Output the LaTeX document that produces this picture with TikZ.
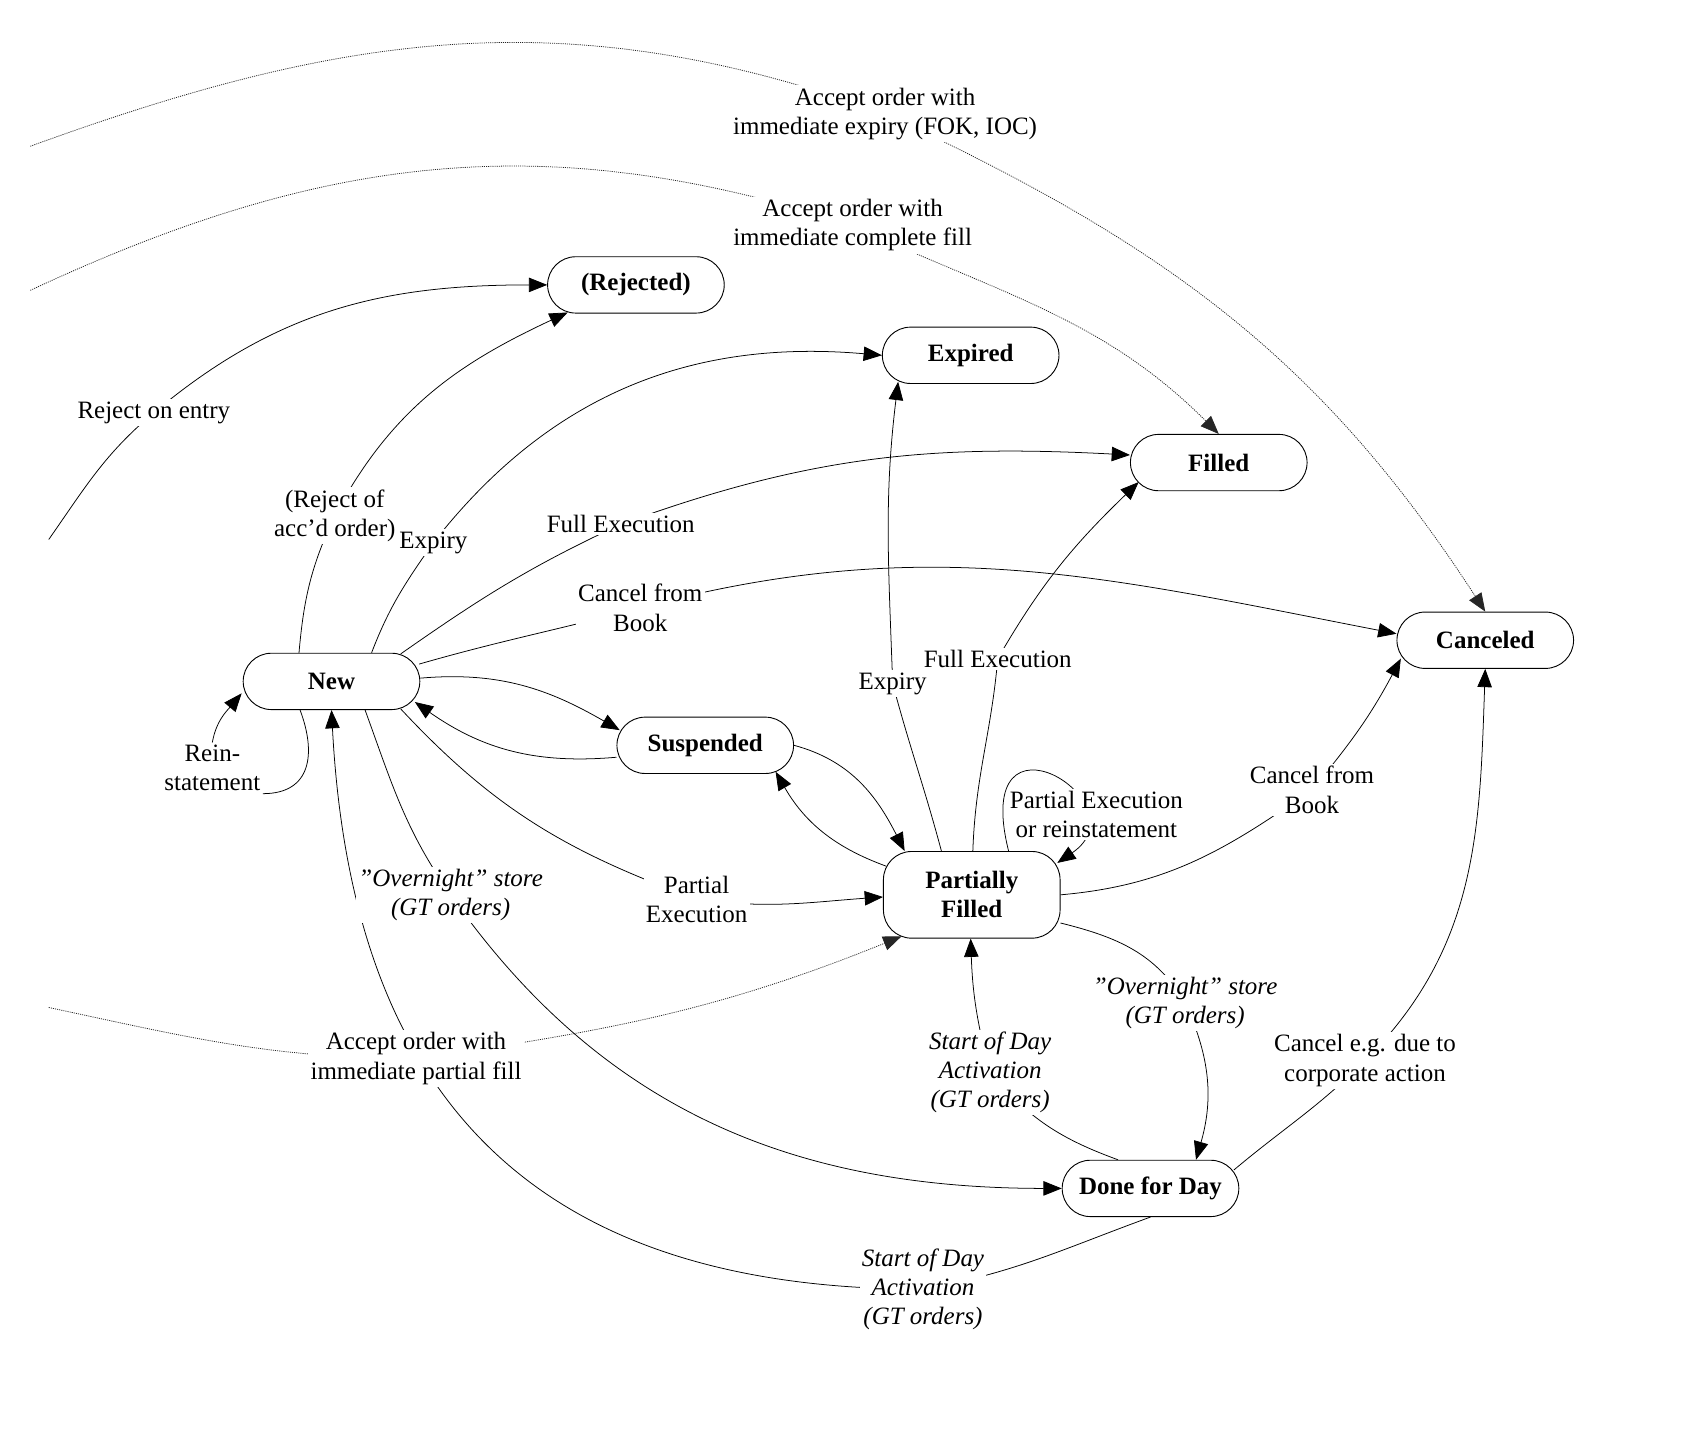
\documentclass[tikz,border=0pt]{standalone}
\usepackage{fontspec}
\setmainfont{Liberation Serif}
\usetikzlibrary{arrows.meta,calc,backgrounds}
\begin{document}
\begin{tikzpicture}[x=0.025cm,y=0.025cm,
  stbox/.style={draw, line width=0.6pt, rounded corners=0.65cm, minimum width=4.075cm, minimum height=1.3cm, fill=white, align=center, font=\fontsize{16.4}{19.2}\selectfont\bfseries},
  lbl/.style={fill=white, inner sep=1.5pt, align=center, font=\fontsize{16.4}{19.2}\selectfont},
  ilbl/.style={lbl, font=\fontsize{16.4}{19.2}\selectfont\itshape},
  conn/.style={line width=0.5pt, -{Triangle[length=12pt,width=9.5pt]}},
  conn0/.style={line width=0.5pt},
  dotconn/.style={conn, draw=black!85, dash pattern=on 0.7pt off 0.7pt},
]
\useasboundingbox (0,0) rectangle (1560,1322);
% states
\node[stbox] (rej) at (587,1059) {(Rejected)};
\node[stbox] (exp) at (896,994) {Expired};
\node[stbox] (fil) at (1125,895) {Filled};
\node[stbox] (can) at (1371,731) {Canceled};
\node[stbox] (new) at (306,693) {New};
\node[stbox] (sus) at (651,634) {Suspended};
\node[stbox, minimum height=2cm] (pf) at (897,496) {Partially\\Filled};
\node[stbox] (dfd) at (1062,225) {Done for Day};
% labels
\node[lbl] (lfok) at (817,1217) {Accept order with\\immediate expiry (FOK, IOC)};
\node[lbl] (lcomp) at (787,1114) {Accept order with\\immediate complete fill};
\node[lbl] (lrent) at (142,941) {Reject on entry};
\node[lbl] (lracc) at (309,846) {(Reject of\\acc’d order)};
\node[lbl] (lexp1) at (400,821) {Expiry};
\node[lbl] (lfull1) at (573,838) {Full Execution};
\node[lbl] (lcan1) at (591,761) {Cancel from\\Book};
\node[lbl] (lrein) at (196,613) {Rein-\\statement};
\node[ilbl] (lon1) at (416,496) {”Overnight” store\\(GT orders)};
\node[lbl] (lpart) at (643,492) {Partial\\Execution};
\node[lbl] (lpfill) at (384,345) {Accept order with\\immediate partial fill};
\node[ilbl] (lsod1) at (852,132) {Start of Day\\Activation\\(GT orders)};
\node[lbl] (lexp2) at (824,691) {Expiry};
\node[lbl] (lfull2) at (921,714) {Full Execution};
\node[lbl] (lpere) at (1012,570) {Partial Execution\\or reinstatement};
\node[lbl] (lcan2) at (1211,593) {Cancel from\\Book};
\node[ilbl] (lon2) at (1094,396) {”Overnight” store\\(GT orders)};
\node[ilbl] (lsod2) at (914,332) {Start of Day\\Activation\\(GT orders)};
\node[lbl] (lcorp) at (1260,343) {Cancel e.g. due to\\corporate action};
% free ends
\coordinate (s1) at (28,1187);
\coordinate (s2) at (28,1054);
\coordinate (s3) at (45,824);
\coordinate (s13) at (45,392);
\begin{scope}[on background layer]
% initial transitions
\draw[dotconn] (s1) to[out=20,in=160] (lfok.center) to[out=-25,in=123] (can.north);
\draw[dotconn] (s2) to[out=25,in=162] (lcomp.center) to[out=-25,in=135] (fil.north);
\draw[conn] (s3) to[out=55,in=220] (lrent.center) to[out=40,in=180] (rej.west);
\draw[dotconn] (s13) to[out=-12,in=180] (lpfill.center) to[out=8,in=202] ($(pf.south west)+(17,2)$);
% from New
\draw[conn] ($(new.north)+(-30,0)$) to[out=85,in=245] (lracc.center) to[out=62,in=205] ($(rej.south west)+(19,1)$);
\draw[conn] ($(new.north)+(37,0)$) to[out=69,in=235] (lexp1.center) to[out=52,in=175] (exp.west);
\draw[conn] ($(new.north east)+(-18,-1)$) to[out=35,in=205] (lfull1.center) to[out=20,in=177] ($(fil.west)+(0,7)$);
\draw[conn] ($(new.east)+(-1,16)$) to[out=16,in=195] (lcan1.center) to[out=15,in=169] ($(can.west)+(0,6)$);
\draw[conn] ($(new.east)+(0,3)$) to[out=5,in=150] ($(sus.west)+(3,14)$);
\draw[conn] ($(sus.west)+(0,-11)$) to[out=185,in=-35] ($(new.east)+(-5,-19)$);
\draw[conn0] ($(new.south)+(-29,0)$) .. controls +(15,-40) and +(45,0) .. (lrein.south east);
\draw[conn] (lrein.north) to[out=80,in=230] ($(new.west)+(-1,-11)$);
\draw[conn] ($(new.south)+(31,0)$) to[out=-70,in=125] (lon1.center) to[out=-55,in=180] (dfd.west);
\draw[conn] ($(new.south east)+(-18,1)$) to[out=-47,in=160] (lpart.center) to[out=-8,in=184] ($(pf.west)+(0,-2)$);
% Suspended / Partially Filled
\draw[conn] (sus.east) to[out=-15,in=117] ($(pf.north west)+(20,0)$);
\draw[conn] ($(pf.north west)+(3,-14)$) to[out=160,in=-60] ($(sus.south east)+(-17,2)$);
\draw[conn] ($(pf.north)+(-28,0)$) to[out=105,in=-75] (lexp2.center) to[out=92,in=-97] ($(exp.south west)+(15,2)$);
\draw[conn] ($(pf.north)+(1,0)$) to[out=88,in=-95] (lfull2.center) to[out=60,in=224] ($(fil.west)+(8,-18)$);
\draw[conn] ($(pf.north)+(34,0)$) .. controls +(-36,144) and +(81,55) .. ($(pf.north east)+(-3,-11)$);
\draw[conn] (pf.east) to[out=5,in=215] (lcan2.center) to[out=50,in=242] ($(can.west)+(4,-17)$);
\draw[conn] ($(pf.east)+(0,-26)$) to[out=-14,in=120] (lon2.center) to[out=-65,in=74] ($(dfd.north)+(42,0)$);
% Done for Day
\draw[conn] ($(dfd.north)+(-30,0)$) to[out=160,in=-50] (lsod2.center) to[out=105,in=-88] ($(pf.south)+(-1,0)$);
\draw[conn] (dfd.south) to[out=200,in=10] (lsod1.center) to[out=180,in=-87,looseness=1.2] (new.south);
\draw[conn] ($(dfd.east)+(-5,17)$) to[out=40,in=225] (lcorp.center) to[out=45,in=-92] (can.south);
\end{scope}
\end{tikzpicture}
\end{document}
